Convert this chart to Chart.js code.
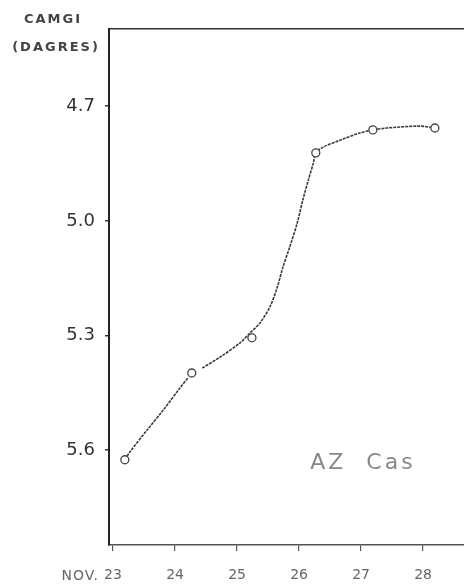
<!DOCTYPE html>
<html>
<head>
<meta charset="utf-8">
<script src="https://cdn.jsdelivr.net/npm/chart.js@4"></script>
<style>
  html, body { margin: 0; padding: 0; background: #fff; overflow: hidden; }
  #wrap { width: 464px; height: 584px; }
</style>
</head>
<body>
<div id="wrap"><canvas id="lightCurve"></canvas></div>
<script>
// observed points (circles), day of Nov vs magnitude
const obsDays = [23.19, 24.27, 25.24, 26.27, 27.19, 28.19];
const obsMags = [5.625, 5.398, 5.306, 4.822, 4.762, 4.757];

// hand drawn curve
const curveDays = [23.19, 23.27, 23.55, 23.81, 24.08, 24.21, null, 24.44, 24.73, 25.05, 25.21, 25.37, 25.53, 25.65, 25.74, 25.85, 25.97, 26.06, 26.15, 26.23, 26.27, 26.39, 26.66, 26.98, 27.19, 27.42, 27.95, 28.19];
const curveMags = [5.625, 5.605, 5.547, 5.495, 5.437, 5.410, null, 5.385, 5.356, 5.319, 5.293, 5.267, 5.225, 5.173, 5.121, 5.068, 5.006, 4.946, 4.893, 4.849, 4.822, 4.807, 4.789, 4.770, 4.762, 4.757, 4.752, 4.757];

const dayTicks = [23, 24, 25, 26, 27, 28];
const magTicks = [4.7, 5.0, 5.3, 5.6];

const curvePts = curveDays.map((d, i) => d === null ? { x: NaN, y: null } : { x: d, y: curveMags[i] });
const obsPts = obsDays.map((d, i) => ({ x: d, y: obsMags[i] }));

// extra handwritten-ish labels
const notes = {
  id: 'notes',
  afterDraw(chart) {
    const ctx = chart.ctx;
    const a = chart.chartArea;
    const xs = chart.scales.x, ys = chart.scales.y;
    ctx.save();
    ctx.textBaseline = 'middle';
    ctx.textAlign = 'center';
    ctx.fillStyle = '#444';
    ctx.font = 'bold 13px "DejaVu Sans"';
    ctx.letterSpacing = '2px';
    ctx.fillText('CAMGI', a.left - 56, 20);
    ctx.fillText('(DAGRES)', a.left - 53, 48);

    ctx.font = '14px "DejaVu Sans"';
    ctx.fillStyle = '#666';
    ctx.letterSpacing = '1px';
    ctx.textAlign = 'right';
    ctx.fillText('NOV.', xs.getPixelForValue(23) - 14, 576);

    ctx.font = '22px "DejaVu Sans"';
    ctx.fillStyle = '#888';
    ctx.letterSpacing = '3px';
    ctx.textAlign = 'center';
    ctx.fillText('AZ  Cas', xs.getPixelForValue(27.03), ys.getPixelForValue(5.633));
    ctx.restore();
  }
};

const noSidePad = s => { s.paddingLeft = 0; s.paddingRight = 0; };

new Chart(document.getElementById('lightCurve'), {
  type: 'scatter',
  data: {
    datasets: [{
      label: 'curve',
      data: curvePts,
      showLine: true,
      spanGaps: false,
      borderColor: '#3a3a3a',
      borderWidth: 1.6,
      borderDash: [3, 1],
      tension: 0.3,
      pointRadius: 0,
      order: 2
    }, {
      label: 'obs',
      data: obsPts,
      showLine: false,
      pointRadius: 4,
      pointBorderWidth: 1.3,
      pointBorderColor: '#444',
      pointBackgroundColor: '#fff',
      order: 1
    }]
  },
  options: {
    responsive: true,
    maintainAspectRatio: false,
    animation: false,
    layout: { autoPadding: false, padding: { top: 29, right: 0, left: 0, bottom: 0 } },
    plugins: { legend: { display: false }, tooltip: { enabled: false } },
    scales: {
      x: {
        type: 'linear',
        min: 22.935,
        max: 28.66,
        afterBuildTicks: s => { s.ticks = dayTicks.map(v => ({ value: v })); },
        afterFit: s => { s.height = 39; noSidePad(s); },
        grid: { drawOnChartArea: false, tickLength: 6, tickColor: '#555', lineWidth: 1.2 },
        border: { color: '#555', width: 1.4, dash: [4, 2] },
        ticks: {
          padding: 16,
          color: '#666',
          font: { family: 'DejaVu Sans', size: 14 },
          callback: v => String(v)
        }
      },
      x2: {
        type: 'linear',
        position: 'top',
        min: 22.935,
        max: 28.66,
        afterFit: s => { s.height = 0; noSidePad(s); },
        grid: { display: false },
        ticks: { display: false },
        border: { display: true, color: '#333', width: 1.6 }
      },
      y: {
        reverse: true,
        min: 4.498,
        max: 5.848,
        afterBuildTicks: s => { s.ticks = magTicks.map(v => ({ value: v })); },
        afterFit: s => { s.width = 109; },
        grid: { drawOnChartArea: false, tickLength: 4, tickColor: '#333', lineWidth: 1.5 },
        border: { color: '#222', width: 2 },
        ticks: {
          padding: 10,
          color: '#333',
          font: { family: 'DejaVu Sans', size: 18 },
          callback: v => v.toFixed(1)
        }
      }
    }
  },
  plugins: [notes]
});
</script>
</body>
</html>
